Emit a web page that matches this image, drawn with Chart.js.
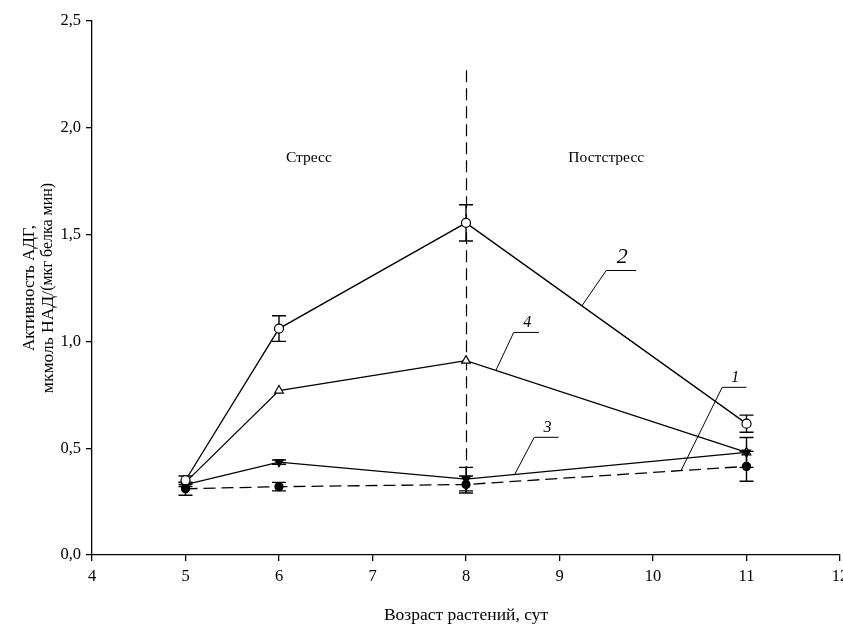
<!DOCTYPE html>
<html>
<head>
<meta charset="utf-8">
<script src="https://cdn.jsdelivr.net/npm/chart.js@4.4.1/dist/chart.umd.min.js"></script>
<style>
  html, body { margin: 0; padding: 0; background: #fff; }
  #wrap { width: 843px; height: 625px; }
</style>
</head>
<body>
<div id="wrap"><canvas id="c" width="843" height="625"></canvas></div>
<script>
// Age of plants, days
const ages = [5, 6, 8, 11];

// ADH activity, µmol NAD/(µg protein·min)
const series1 = [0.31, 0.32, 0.33, 0.415];
const series2 = [0.35, 1.06, 1.555, 0.615];
const series3 = [0.33, 0.435, 0.355, 0.48];
const series4 = [0.34, 0.77, 0.91, 0.48];

// Standard errors
const err1 = [0.03, 0.02, 0.04, 0.07];
const err2 = [0.02, 0.06, 0.085, 0.04];
const err3 = [0.01, 0.01, 0.055, 0.07];
const err4 = [0, 0, 0, 0];

const xTickLabels = ['4', '5', '6', '7', '8', '9', '10', '11', '12'];
const yTickLabels = ['0,0', '0,5', '1,0', '1,5', '2,0', '2,5'];

const yTitleLine1 = 'Активность АДГ,';
const yTitleLine2a = 'мкмоль НАД/';
const yTitleLine2b = '(мкг белка мин)';
const xTitle = 'Возраст растений, сут';

// Phase boundary and phase captions
const stressEnd = 8;
const phaseCaptions = [
  { text: 'Стресс', x: 6.32, y: 1.86 },
  { text: 'Постстресс', x: 9.5, y: 1.86 }
];

// Curve numbers with leader lines: label, its series, x on curve, elbow point, end of shelf
const curveLabels = [
  { text: '2', data: series2, xOn: 9.24, ex: 9.50, ey: 1.332, endX: 9.82, size: 22 },
  { text: '4', data: series4, xOn: 8.32, ex: 8.51, ey: 1.042, endX: 8.78, size: 16 },
  { text: '3', data: series3, xOn: 8.52, ex: 8.73, ey: 0.551, endX: 8.99, size: 16 },
  { text: '1', data: series1, xOn: 10.30, ex: 10.74, ey: 0.785, endX: 11.0, size: 16 }
];

const FONT = "'Liberation Serif', 'Times New Roman', serif";

function pts(values) {
  return ages.map((a, i) => ({ x: a, y: values[i] }));
}

function interp(values, x) {
  for (let i = 0; i < ages.length - 1; i++) {
    if (x >= ages[i] && x <= ages[i + 1]) {
      const t = (x - ages[i]) / (ages[i + 1] - ages[i]);
      return values[i] + t * (values[i + 1] - values[i]);
    }
  }
  return values[values.length - 1];
}

const errorSets = [
  { values: series1, err: err1 },
  { values: series2, err: err2 },
  { values: series3, err: err3 },
  { values: series4, err: err4 }
];

// Let the x axis run almost to the right edge of the canvas
const widenPlot = {
  id: 'widenPlot',
  afterLayout(chart) {
    const x = chart.scales.x;
    const right = chart.width - 3;
    x.right = right;
    x.width = right - x.left;
    chart.chartArea.right = right;
    chart.chartArea.width = right - chart.chartArea.left;
    x.configure();
  }
};

const errorBars = {
  id: 'errorBars',
  beforeDatasetsDraw(chart) {
    const { ctx, scales: { x, y } } = chart;
    ctx.save();
    ctx.strokeStyle = '#000';
    ctx.lineWidth = 1.4;
    errorSets.forEach(set => {
      set.values.forEach((v, i) => {
        const e = set.err[i];
        if (!e) return;
        const px = x.getPixelForValue(ages[i]);
        const top = y.getPixelForValue(v + e);
        const bot = y.getPixelForValue(v - e);
        ctx.beginPath();
        ctx.moveTo(px, top); ctx.lineTo(px, bot);
        ctx.moveTo(px - 7, top); ctx.lineTo(px + 7, top);
        ctx.moveTo(px - 7, bot); ctx.lineTo(px + 7, bot);
        ctx.stroke();
      });
    });
    // boundary between stress and post-stress periods
    ctx.lineWidth = 1.2;
    ctx.setLineDash([12, 6]);
    const bx = Math.round(x.getPixelForValue(stressEnd)) + 0.5;
    ctx.beginPath();
    ctx.moveTo(bx, y.getPixelForValue(2.27));
    ctx.lineTo(bx, y.getPixelForValue(0.29));
    ctx.stroke();
    ctx.restore();
  }
};

const annotations = {
  id: 'annotations',
  afterDatasetsDraw(chart) {
    const { ctx, scales: { x, y }, chartArea } = chart;
    ctx.save();
    ctx.fillStyle = '#000';
    ctx.strokeStyle = '#000';
    ctx.lineWidth = 1;

    ctx.font = `15.5px ${FONT}`;
    ctx.textAlign = 'center';
    ctx.textBaseline = 'middle';
    phaseCaptions.forEach(c => {
      ctx.fillText(c.text, x.getPixelForValue(c.x), y.getPixelForValue(c.y));
    });

    curveLabels.forEach(l => {
      const x0 = x.getPixelForValue(l.xOn);
      const y0 = y.getPixelForValue(interp(l.data, l.xOn));
      const x1 = x.getPixelForValue(l.ex);
      const y1 = y.getPixelForValue(l.ey);
      const x2 = x.getPixelForValue(l.endX);
      ctx.beginPath();
      ctx.moveTo(x0, y0); ctx.lineTo(x1, y1); ctx.lineTo(x2, y1);
      ctx.stroke();
      ctx.font = `italic ${l.size}px ${FONT}`;
      ctx.textBaseline = 'bottom';
      ctx.fillText(l.text, (x1 + x2) / 2 + 1, y1 - 2);
    });

    // axis titles
    ctx.textBaseline = 'middle';
    ctx.font = `17.5px ${FONT}`;
    ctx.fillText(xTitle, (chartArea.left + chartArea.right) / 2, 615);

    const cy = (chartArea.top + chartArea.bottom) / 2;
    ctx.save();
    ctx.translate(30, cy);
    ctx.rotate(-Math.PI / 2);
    ctx.font = `17px ${FONT}`;
    ctx.fillText(yTitleLine1, 0, 0);
    ctx.restore();

    ctx.save();
    ctx.translate(48, cy);
    ctx.rotate(-Math.PI / 2);
    ctx.font = `17.5px ${FONT}`;
    const wA = ctx.measureText(yTitleLine2a).width;
    ctx.font = `16px ${FONT}`;
    const wB = ctx.measureText(yTitleLine2b).width;
    const start = -(wA + wB) / 2;
    ctx.textAlign = 'left';
    ctx.font = `17.5px ${FONT}`;
    ctx.fillText(yTitleLine2a, start, 0);
    ctx.font = `16px ${FONT}`;
    ctx.fillText(yTitleLine2b, start + wA, 0);
    ctx.restore();

    ctx.restore();
  }
};

new Chart(document.getElementById('c'), {
  type: 'line',
  data: {
    datasets: [
      {
        label: '1', data: pts(series1), borderColor: '#000', borderWidth: 1.3,
        borderDash: [12, 6], pointStyle: 'circle', pointRadius: 4,
        pointBackgroundColor: '#000', pointBorderColor: '#000', tension: 0
      },
      {
        label: '2', data: pts(series2), borderColor: '#000', borderWidth: 1.3,
        pointStyle: 'circle', pointRadius: 4.5, pointBorderWidth: 1.2,
        pointBackgroundColor: '#fff', pointBorderColor: '#000', tension: 0
      },
      {
        label: '3', data: pts(series3), borderColor: '#000', borderWidth: 1.3,
        pointStyle: 'triangle', pointRotation: 180, pointRadius: 4.5,
        pointBackgroundColor: '#000', pointBorderColor: '#000', tension: 0
      },
      {
        label: '4', data: pts(series4), borderColor: '#000', borderWidth: 1.3,
        pointStyle: 'triangle', pointRadius: 5, pointBorderWidth: 1.2,
        pointBackgroundColor: '#fff', pointBorderColor: '#000', tension: 0
      }
    ]
  },
  options: {
    responsive: false,
    animation: false,
    events: [],
    layout: { padding: { left: 52, top: 21, right: 3, bottom: 0 } },
    plugins: { legend: { display: false }, tooltip: { enabled: false } },
    scales: {
      x: {
        type: 'linear', min: 4, max: 12,
        afterFit: s => { s.height = 70; },
        border: { display: true, color: '#000', width: 1.3 },
        grid: { display: true, drawOnChartArea: false, color: '#000', tickLength: 6, lineWidth: 1.3 },
        ticks: {
          stepSize: 1, color: '#000', padding: 6,
          font: { family: FONT, size: 16.5 },
          callback: (v) => xTickLabels[Math.round(v) - 4]
        }
      },
      y: {
        min: 0, max: 2.5,
        afterFit: s => { s.width = 40; },
        border: { display: true, color: '#000', width: 1.3 },
        grid: { display: true, drawOnChartArea: false, color: '#000', tickLength: 6, lineWidth: 1.3 },
        ticks: {
          stepSize: 0.5, color: '#000', padding: 5,
          font: { family: FONT, size: 16.5 },
          callback: (v) => yTickLabels[Math.round(v * 2)]
        }
      }
    }
  },
  plugins: [widenPlot, errorBars, annotations]
});
</script>
</body>
</html>
